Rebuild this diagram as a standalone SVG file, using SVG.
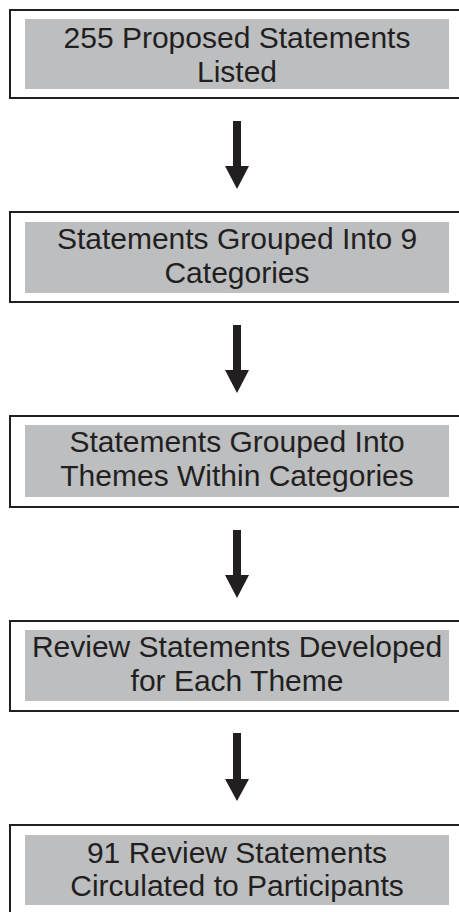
<svg xmlns="http://www.w3.org/2000/svg" width="459" height="912" viewBox="0 0 459 912">
<style>
.outer{fill:#ffffff;stroke:#231f20;stroke-width:2}
.inner{fill:#bcbec0}
.t{font-family:"Liberation Sans",Arial,sans-serif;font-size:30px;fill:#231f20;text-anchor:middle}
.arr{fill:#231f20}
</style>
<rect width="459" height="912" fill="#ffffff"/>
<g id="node1">
<rect class="outer" x="10" y="10" width="460" height="88"/>
<rect class="inner" x="25" y="19" width="424" height="70"/>
<text class="t" x="237" y="48">255 Proposed Statements</text>
<text class="t" x="237" y="82">Listed</text>
</g>
<g id="node2">
<rect class="outer" x="10" y="212" width="460" height="90"/>
<rect class="inner" x="25" y="222" width="424" height="71"/>
<text class="t" x="237" y="249">Statements Grouped Into 9</text>
<text class="t" x="237" y="283">Categories</text>
</g>
<g id="node3">
<rect class="outer" x="10" y="416" width="460" height="91"/>
<rect class="inner" x="25" y="425" width="424" height="72"/>
<text class="t" x="237" y="452">Statements Grouped Into</text>
<text class="t" x="237" y="486">Themes Within Categories</text>
</g>
<g id="node4">
<rect class="outer" x="10" y="621" width="460" height="90"/>
<rect class="inner" x="25" y="630" width="424" height="71"/>
<text class="t" x="237" y="657">Review Statements Developed</text>
<text class="t" x="237" y="691">for Each Theme</text>
</g>
<g id="node5">
<rect class="outer" x="10" y="825" width="460" height="100"/>
<rect class="inner" x="25" y="835" width="424" height="70"/>
<text class="t" x="237" y="863">91 Review Statements</text>
<text class="t" x="237" y="896">Circulated to Participants</text>
</g>
<g id="connectors">
<polygon class="arr" points="233,121 241,121 241,166 249,166 237,189 225,166 233,166"/>
<polygon class="arr" points="233,325 241,325 241,370 249,370 237,393 225,370 233,370"/>
<polygon class="arr" points="233,530 241,530 241,575 249,575 237,598 225,575 233,575"/>
<polygon class="arr" points="233,733 241,733 241,779 249,779 237,801 225,779 233,779"/>
</g>
</svg>
